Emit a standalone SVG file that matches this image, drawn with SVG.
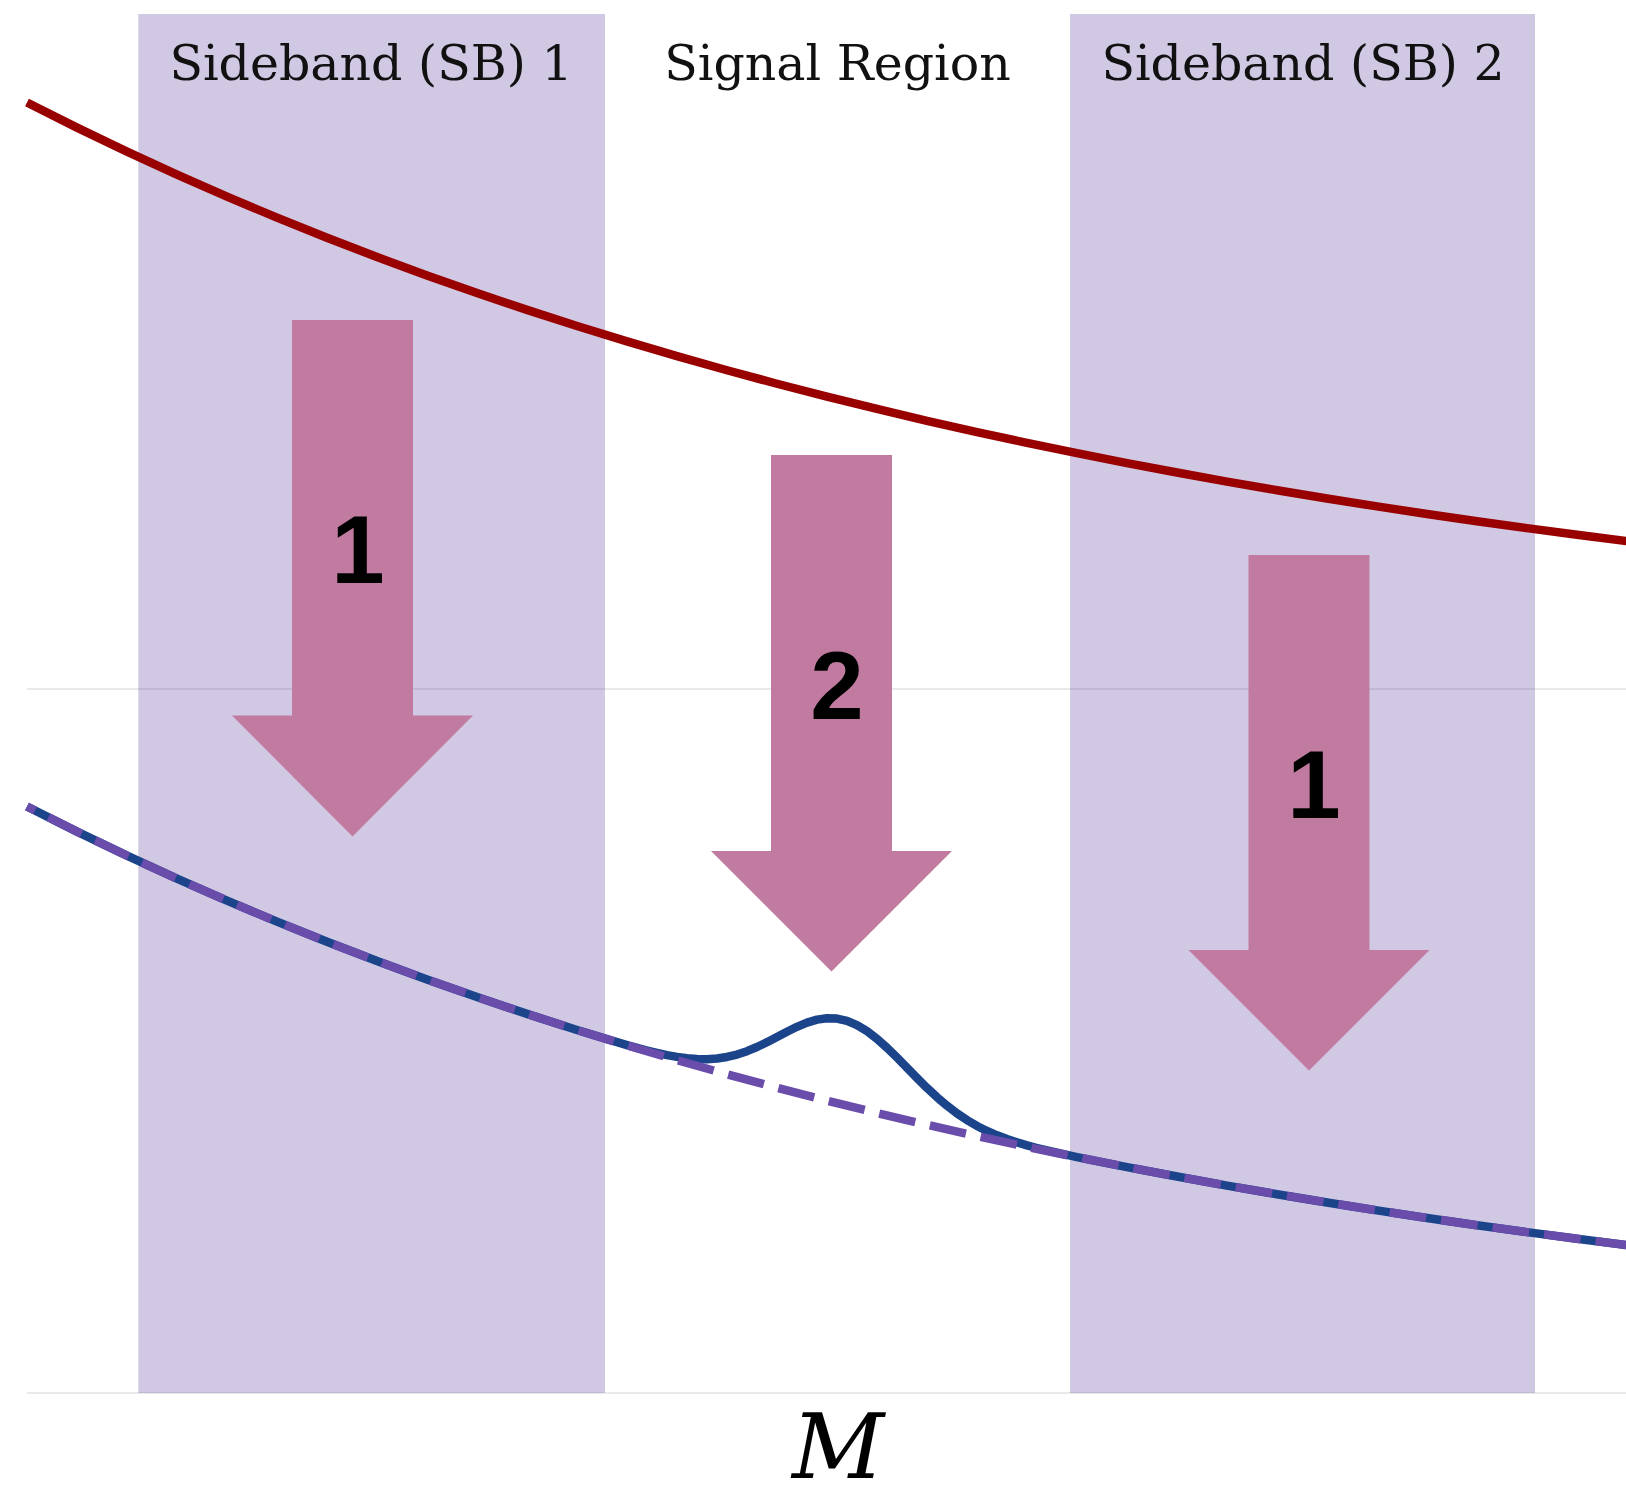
<svg xmlns="http://www.w3.org/2000/svg" width="1626" height="1490" viewBox="0 0 1626 1490">
<style>
.grid{stroke:#E2E2E2;stroke-width:1.5;fill:none}
.band{fill:#674AA7;fill-opacity:0.3}
.hdr{font-family:"DejaVu Serif","Liberation Serif",serif;font-size:49px;fill:#111;text-anchor:middle}
.arrow{fill:#C27BA0}
.num{font-family:"Liberation Sans",Arial,sans-serif;font-weight:bold;font-size:96px;fill:#000;text-anchor:middle}
.curve{fill:none;stroke-linejoin:round;stroke-linecap:butt}
</style>
<rect x="0" y="0" width="1626" height="1490" fill="#FFFFFF"/>
<g id="grid">
<line class="grid" x1="27" y1="689" x2="1626" y2="689"/>
<line class="grid" x1="27" y1="1393" x2="1626" y2="1393"/>
</g>
<g id="sideband1">
<rect class="band" x="138.3" y="14" width="466.7" height="1379"/>
<text class="hdr" x="371" y="80">Sideband (SB) 1</text>
</g>
<g id="signal-region">
<text class="hdr" x="837.5" y="80">Signal Region</text>
</g>
<g id="sideband2">
<rect class="band" x="1070" y="14" width="465" height="1379"/>
<text class="hdr" x="1303" y="80">Sideband (SB) 2</text>
</g>
<g id="curves">
<polyline id="upper" class="curve" stroke="#990000" stroke-width="8.5" points="27,102.5 77,127.63 127,151.66 177,174.65 227,196.64 277,217.67 327,237.79 377,257.04 427,275.45 477,293.06 527,309.9 577,326.01 627,341.42 677,356.16 727,370.26 777,383.75 827,396.65 877,408.99 927,420.79 977,432.08 1027,442.88 1077,453.21 1127,463.09 1177,472.54 1227,481.58 1277,490.23 1327,498.5 1377,506.41 1427,513.98 1477,521.22 1527,528.14 1577,534.77 1627,541.1"/>
<polyline id="signal-plus-bg" class="curve" stroke="#1B448B" stroke-width="8.5" points="27,806.5 77,831.63 127,855.66 177,878.65 227,900.64 277,921.67 327,941.79 377,961.04 427,979.45 477,997.06 527,1013.9 577,1030.01 627,1045.08 637,1047.86 647,1050.49 657,1052.92 667,1055.09 677,1056.9 687,1058.26 697,1059.05 707,1059.17 717,1058.5 727,1056.96 737,1054.52 747,1051.17 757,1046.99 767,1042.19 777,1036.99 787,1031.72 797,1026.8 807,1022.64 817,1019.65 827,1018.18 837,1018.52 847,1020.81 857,1025.07 867,1031.16 877,1038.86 887,1047.79 897,1057.57 907,1067.78 917,1078.01 927,1087.91 937,1097.22 947,1105.74 957,1113.36 967,1120.08 977,1125.93 987,1130.97 997,1135.33 1007,1139.1 1017,1142.4 1027,1145.33 1037,1147.99 1047,1150.45 1057,1152.75 1067,1154.96 1077,1157.08 1127,1167.09 1177,1176.54 1227,1185.58 1277,1194.23 1327,1202.5 1377,1210.41 1427,1217.98 1477,1225.22 1527,1232.14 1577,1238.77 1627,1245.1"/>
<polyline id="background" class="curve" stroke="#6A4CAB" stroke-width="8.5" stroke-dasharray="37 15" stroke-dashoffset="28" points="27,806.5 77,831.63 127,855.66 177,878.65 227,900.64 277,921.67 327,941.79 377,961.04 427,979.45 477,997.06 527,1013.9 577,1030.01 627,1045.42 677,1060.16 727,1074.26 777,1087.75 827,1100.65 877,1112.99 927,1124.79 977,1136.08 1027,1146.88 1077,1157.21 1127,1167.09 1177,1176.54 1227,1185.58 1277,1194.23 1327,1202.5 1377,1210.41 1427,1217.98 1477,1225.22 1527,1232.14 1577,1238.77 1627,1245.1"/>
</g>
<g id="arrow-sb1">
<polygon class="arrow" points="292,320 413,320 413,715.5 473,715.5 352.5,836.5 232,715.5 292,715.5"/>
<text class="num" x="358" y="583">1</text>
</g>
<g id="arrow-sr">
<polygon class="arrow" points="771,455 892,455 892,851 952,851 831.5,971.5 711,851 771,851"/>
<text class="num" x="837" y="719">2</text>
</g>
<g id="arrow-sb2">
<polygon class="arrow" points="1248.5,555 1369.5,555 1369.5,950 1429.5,950 1309,1070.5 1188.5,950 1248.5,950"/>
<text class="num" x="1314" y="818">1</text>
</g>
<g id="axis-label">
<text x="838" y="1478" font-family="'DejaVu Serif','Liberation Serif',serif" font-style="italic" font-size="90" text-anchor="middle" fill="#000">M</text>
</g>
</svg>
